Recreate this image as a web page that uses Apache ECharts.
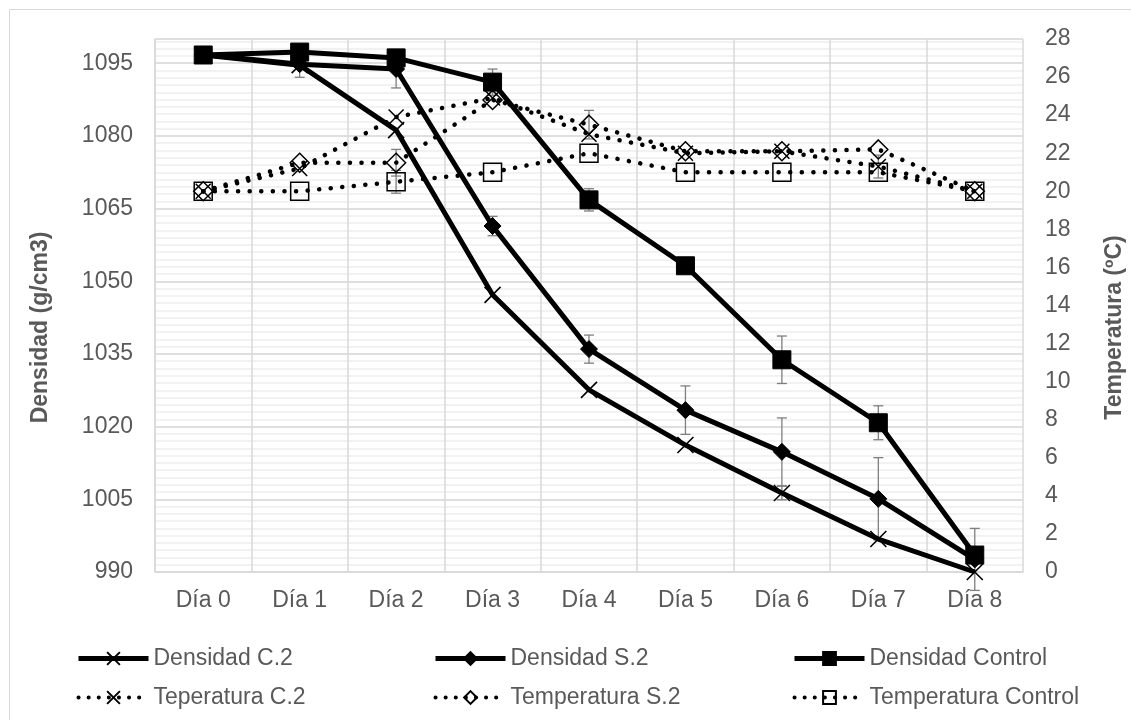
<!DOCTYPE html>
<html>
<head>
<meta charset="utf-8">
<script src="https://cdn.jsdelivr.net/npm/echarts@6/dist/echarts.min.js"></script>
<style>
  html, body { margin: 0; padding: 0; background: #fff; }
  #chart { width: 1131px; height: 720px; }
</style>
</head>
<body>
<div id="chart"></div>
<script>
// Días de medición
const days = ['Día 0', 'Día 1', 'Día 2', 'Día 3', 'Día 4', 'Día 5', 'Día 6', 'Día 7', 'Día 8'];

// Densidad (g/cm3)
const densC2      = [1096.7, 1094.6, 1081.2, 1047.2, 1027.6, 1016.2, 1006.3, 996.8, 990.0];
const densS2      = [1096.8, 1094.8, 1093.8, 1061.4, 1036.0, 1023.4, 1014.8, 1005.1, 992.6];
const densControl = [1096.7, 1097.3, 1096.1, 1091.1, 1066.8, 1053.2, 1033.8, 1020.8, 993.5];

// Temperatura (ºC)
const tempC2      = [20.0, 21.2, 23.9, 24.9, 23.0, 22.0, 22.1, 21.3, 20.0];
const tempS2      = [20.0, 21.5, 21.5, 24.8, 23.5, 22.1, 22.1, 22.2, 20.0];
const tempControl = [20.0, 20.0, 20.5, 21.0, 22.0, 21.0, 21.0, 21.0, 20.0];

// Desviaciones (barras de error, ±)
const errDensC2      = [null, 2.5, null, null, null, null, 1.4, null, null];
const errDensS2      = [null, null, 3.9, 2.0, 2.9, 5.0, 7.0, 8.5, 6.4];
const errDensControl = [0.8, null, null, 2.7, 2.3, null, 4.9, 3.5, null];
const errTempC2      = [null, null, null, null, null, null, null, 0.6, null];
const errTempS2      = [null, null, 0.7, null, 0.75, null, null, null, null];
const errTempControl = [null, null, 0.6, null, null, null, null, null, null];

// Ejes
const densMin = 990, densMax = 1100, densStep = 15, densMinorStep = 1.5;
const tempMin = 0, tempMax = 28, tempStep = 2;

const chart = echarts.init(document.getElementById('chart'), null, { renderer: 'canvas' });

const FONT = 'Liberation Sans, Arial, sans-serif';
const TXT = '#595959';
const FS = 23;
const X_SYMBOL = 'path://M0,0L10,10M10,0L0,10';

function errData(values, errs) {
  const out = [];
  values.forEach((v, i) => {
    if (errs[i] != null) out.push([i, v - errs[i], v + errs[i]]);
  });
  return out;
}

function renderErr(params, api) {
  const x = api.value(0);
  const lo = api.coord([x, api.value(1)]);
  const hi = api.coord([x, api.value(2)]);
  const w = 5;
  const style = { stroke: '#7f7f7f', lineWidth: 1.3 };
  return {
    type: 'group',
    children: [
      { type: 'line', shape: { x1: lo[0], y1: lo[1], x2: hi[0], y2: hi[1] }, style },
      { type: 'line', shape: { x1: hi[0] - w, y1: hi[1], x2: hi[0] + w, y2: hi[1] }, style },
      { type: 'line', shape: { x1: lo[0] - w, y1: lo[1], x2: lo[0] + w, y2: lo[1] }, style }
    ]
  };
}

function errSeries(values, errs, axis) {
  return {
    type: 'custom',
    yAxisIndex: axis,
    renderItem: renderErr,
    data: errData(values, errs),
    encode: { x: 0, y: [1, 2] },
    silent: true,
    z: 1
  };
}

const dotted = { color: '#000', width: 4.5, type: [0.1, 11.5], cap: 'round' };
const solid = { color: '#000', width: 5 };

function tempSeries(name, data, symbol, size) {
  return {
    name, type: 'line', yAxisIndex: 2, data,
    symbol, symbolSize: size,
    lineStyle: dotted,
    itemStyle: { color: 'rgba(0,0,0,0)', borderColor: '#000', borderWidth: 1.5 },
    z: 2
  };
}

function densSeries(name, data, symbol, size, filled) {
  return {
    name, type: 'line', yAxisIndex: 1, data,
    symbol, symbolSize: size,
    lineStyle: solid,
    itemStyle: filled
      ? { color: '#000', borderColor: '#000', borderWidth: 1 }
      : { color: '#000', borderColor: '#000', borderWidth: 1.6 },
    z: 3
  };
}

const legendText = { fontFamily: FONT, fontSize: FS, color: TXT };
function legendCol(left, densName, tempName) {
  return {
    orient: 'vertical', left, top: 647,
    itemWidth: 70, itemHeight: 16, itemGap: 16,
    padding: 0,
    textStyle: legendText,
    data: [
      { name: densName, lineStyle: { width: 5, type: 'solid' } },
      { name: tempName, lineStyle: { width: 4, type: [0.1, 10], cap: 'round' } }
    ]
  };
}

chart.setOption({
  animation: false,
  backgroundColor: '#fff',
  graphic: [{
    type: 'rect', silent: true, z: -10,
    shape: { x: 9.5, y: 9.5, width: 1300, height: 900 },
    style: { fill: 'none', stroke: '#d9d9d9', lineWidth: 1 }
  }],
  grid: { left: 155, right: 108, top: 39, bottom: 148, outerBoundsMode: 'none' },
  legend: [
    legendCol(76, 'Densidad C.2', 'Teperatura C.2'),
    legendCol(433, 'Densidad S.2', 'Temperatura S.2'),
    legendCol(792, 'Densidad Control', 'Temperatura Control')
  ],
  xAxis: {
    type: 'category',
    data: days,
    boundaryGap: true,
    axisTick: { show: false },
    axisLine: { lineStyle: { color: '#d9d9d9', width: 1.5 } },
    axisLabel: { fontFamily: FONT, fontSize: FS, color: TXT, margin: 17 },
    splitLine: { show: true, lineStyle: { color: '#d9d9d9', width: 1.5 } }
  },
  yAxis: [
    {
      // líneas secundarias de la cuadrícula
      type: 'value', position: 'left',
      min: densMin, max: densMax, interval: densMinorStep,
      axisLabel: { show: false }, axisTick: { show: false }, axisLine: { show: false },
      splitLine: { show: true, lineStyle: { color: '#eeeeee', width: 1.5 } }
    },
    {
      type: 'value', position: 'left',
      min: densMin, max: densMax, interval: densStep,
      name: 'Densidad (g/cm3)', nameLocation: 'middle', nameGap: 103, nameRotate: 90,
      nameTextStyle: { fontFamily: FONT, fontSize: FS, fontWeight: 'bold', color: TXT, padding: [0, 44, 0, 0] },
      axisLabel: { fontFamily: FONT, fontSize: FS, color: TXT, margin: 22, showMaxLabel: false,
                   formatter: v => String(v) },
      axisTick: { show: false },
      axisLine: { show: true, lineStyle: { color: '#d9d9d9', width: 1.5 } },
      splitLine: { show: true, lineStyle: { color: '#d9d9d9', width: 1.5 } }
    },
    {
      type: 'value', position: 'right',
      min: tempMin, max: tempMax, interval: tempStep,
      name: 'Temperatura (ºC)', nameLocation: 'middle', nameGap: 80, nameRotate: 90,
      nameTextStyle: { fontFamily: FONT, fontSize: FS, fontWeight: 'bold', color: TXT, padding: [0, 44, 0, 0] },
      axisLabel: { fontFamily: FONT, fontSize: FS, color: TXT, margin: 22 },
      axisTick: { show: false },
      axisLine: { show: false },
      splitLine: { show: false }
    }
  ],
  series: [
    tempSeries('Teperatura C.2', tempC2, X_SYMBOL, 15),
    tempSeries('Temperatura S.2', tempS2, 'diamond', 19),
    tempSeries('Temperatura Control', tempControl, 'rect', 18),
    errSeries(tempC2, errTempC2, 2),
    errSeries(tempS2, errTempS2, 2),
    errSeries(tempControl, errTempControl, 2),
    errSeries(densC2, errDensC2, 1),
    errSeries(densS2, errDensS2, 1),
    errSeries(densControl, errDensControl, 1),
    densSeries('Densidad C.2', densC2, X_SYMBOL, 16, false),
    densSeries('Densidad S.2', densS2, 'diamond', 17, true),
    densSeries('Densidad Control', densControl, 'rect', 18, true)
  ]
});
</script>
</body>
</html>
